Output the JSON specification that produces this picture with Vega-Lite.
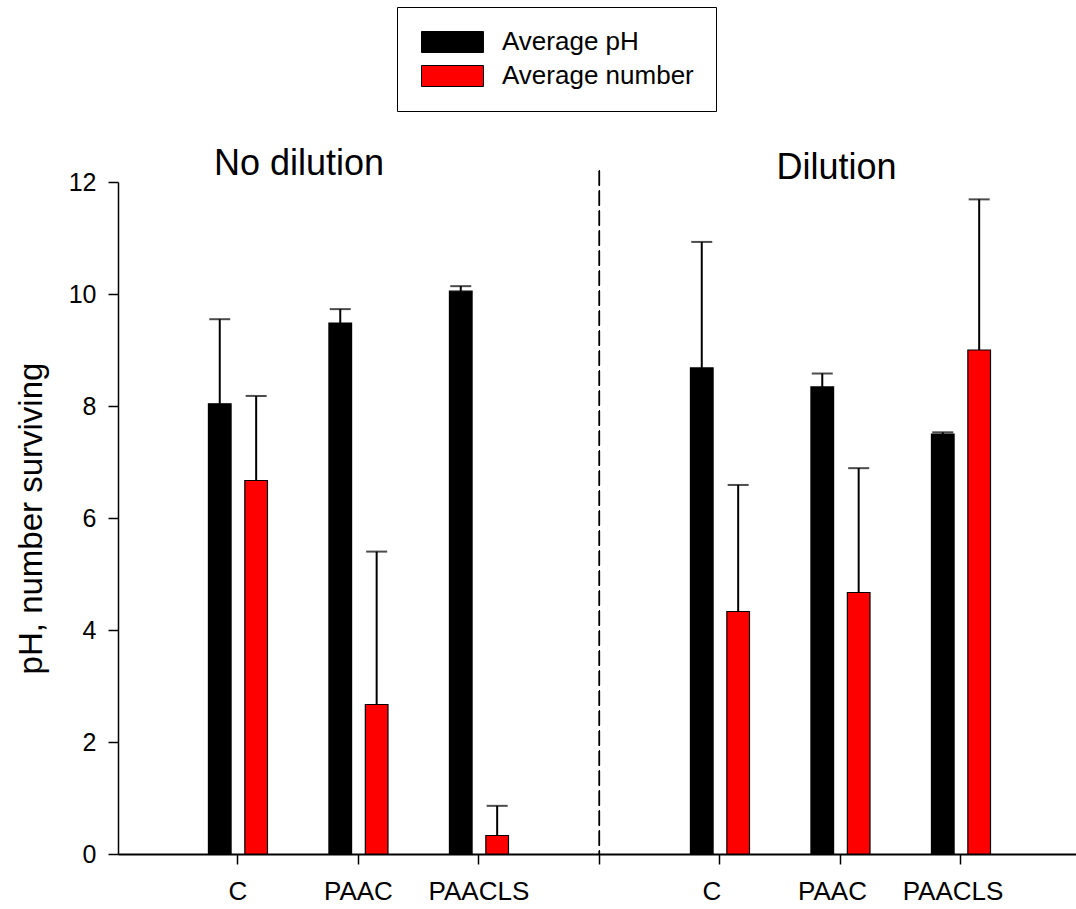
{
  "$schema": "https://vega.github.io/schema/vega-lite/v6.json",
  "width": 958,
  "height": 672,
  "autosize": {"type": "none"},
  "padding": {"left": 118, "top": 182, "right": 0, "bottom": 55},
  "background": "white",
  "config": {
    "view": {"stroke": null},
    "font": "Liberation Sans",
    "axis": {"grid": false, "domainColor": "black", "tickColor": "black", "labelColor": "black", "titleColor": "black", "labelFont": "Liberation Sans", "titleFont": "Liberation Sans", "titleFontWeight": "normal"}
  },
  "data": {"values": [
    {"condition": "No dilution", "slot": "nd-C", "series": "Average pH", "value": 8.04, "upper": 9.55},
    {"condition": "No dilution", "slot": "nd-C", "series": "Average number", "value": 6.67, "upper": 8.18},
    {"condition": "No dilution", "slot": "nd-PAAC", "series": "Average pH", "value": 9.48, "upper": 9.73},
    {"condition": "No dilution", "slot": "nd-PAAC", "series": "Average number", "value": 2.67, "upper": 5.40},
    {"condition": "No dilution", "slot": "nd-PAACLS", "series": "Average pH", "value": 10.05, "upper": 10.14},
    {"condition": "No dilution", "slot": "nd-PAACLS", "series": "Average number", "value": 0.33, "upper": 0.86},
    {"condition": "Dilution", "slot": "d-C", "series": "Average pH", "value": 8.68, "upper": 10.93},
    {"condition": "Dilution", "slot": "d-C", "series": "Average number", "value": 4.33, "upper": 6.59},
    {"condition": "Dilution", "slot": "d-PAAC", "series": "Average pH", "value": 8.34, "upper": 8.58},
    {"condition": "Dilution", "slot": "d-PAAC", "series": "Average number", "value": 4.67, "upper": 6.89},
    {"condition": "Dilution", "slot": "d-PAACLS", "series": "Average pH", "value": 7.50, "upper": 7.53},
    {"condition": "Dilution", "slot": "d-PAACLS", "series": "Average number", "value": 9.00, "upper": 11.69}
  ]},
  "encoding": {
    "x": {
      "field": "slot", "type": "nominal",
      "scale": {"domain": ["nd-C", "nd-PAAC", "nd-PAACLS", "div", "d-C", "d-PAAC", "d-PAACLS"], "paddingInner": 0.51, "paddingOuter": 0.73, "align": 0.514},
      "axis": {
        "title": null, "labelAngle": 0, "labelFontSize": 26, "labelPadding": 14, "tickSize": 10, "tickWidth": 1.5, "domainWidth": 2,
        "labelExpr": "datum.value == 'div' ? '' : split(datum.value, '-')[1]",
        "labelOffset": {"condition": {"test": "indexof(datum.value, 'd-') == 0", "value": -8}, "value": 0}
      }
    }
  },
  "layer": [
    {
      "mark": {"type": "bar", "stroke": "black", "strokeWidth": 1.2},
      "encoding": {
        "xOffset": {"field": "series", "type": "nominal", "scale": {"domain": ["Average pH", "Average number"], "paddingInner": 0.378, "paddingOuter": 0}},
        "y": {"field": "value", "type": "quantitative",
          "scale": {"domain": [0, 12], "nice": false},
          "axis": {"values": [0, 2, 4, 6, 8, 10, 12], "format": "d", "title": "pH, number surviving", "titleFontSize": 33, "titlePadding": 20, "labelFontSize": 25, "labelPadding": 12, "tickSize": 10, "tickWidth": 1.5, "domainWidth": 1.5}},
        "color": {"field": "series", "type": "nominal",
          "scale": {"domain": ["Average pH", "Average number"], "range": ["#000000", "#ff0000"]},
          "legend": {
            "title": null, "orient": "none", "legendX": 279, "legendY": -175,
            "padding": 22, "strokeColor": "black",
            "symbolType": "M-1,-1H4.9V1H-1Z", "symbolSize": 441, "symbolStrokeColor": "black", "symbolStrokeWidth": 1, "symbolOpacity": 1,
            "labelFontSize": 26, "labelFont": "Liberation Sans", "labelColor": "black", "labelOffset": 57, "labelLimit": 500, "rowPadding": 8
          }}
      }
    },
    {
      "mark": {"type": "rule", "color": "black", "strokeWidth": 2},
      "encoding": {
        "xOffset": {"field": "series", "type": "nominal"},
        "y": {"field": "value", "type": "quantitative"},
        "y2": {"field": "upper"}
      }
    },
    {
      "mark": {"type": "tick", "color": "black", "thickness": 2, "size": 21, "orient": "horizontal"},
      "encoding": {
        "xOffset": {"field": "series", "type": "nominal"},
        "y": {"field": "upper", "type": "quantitative"}
      }
    },
    {
      "mark": {"type": "rule", "color": "black", "strokeWidth": 1.1, "strokeDash": [15, 5]},
      "encoding": {
        "x": {"datum": "div", "type": "nominal"},
        "y": {"datum": 12.2, "type": "quantitative"},
        "y2": {"datum": 0}
      }
    },
    {
      "data": {"values": [{"slot": "nd-C", "label": "No dilution", "level": 12.13}]},
      "mark": {"type": "text", "fontSize": 36, "color": "black", "align": "center", "baseline": "alphabetic", "dx": 61},
      "encoding": {
        "y": {"field": "level", "type": "quantitative"},
        "text": {"field": "label"}
      }
    },
    {
      "data": {"values": [{"slot": "d-PAAC", "label": "Dilution", "level": 12.06}]},
      "mark": {"type": "text", "fontSize": 36, "color": "black", "align": "center", "baseline": "alphabetic", "dx": -4},
      "encoding": {
        "y": {"field": "level", "type": "quantitative"},
        "text": {"field": "label"}
      }
    }
  ]
}
